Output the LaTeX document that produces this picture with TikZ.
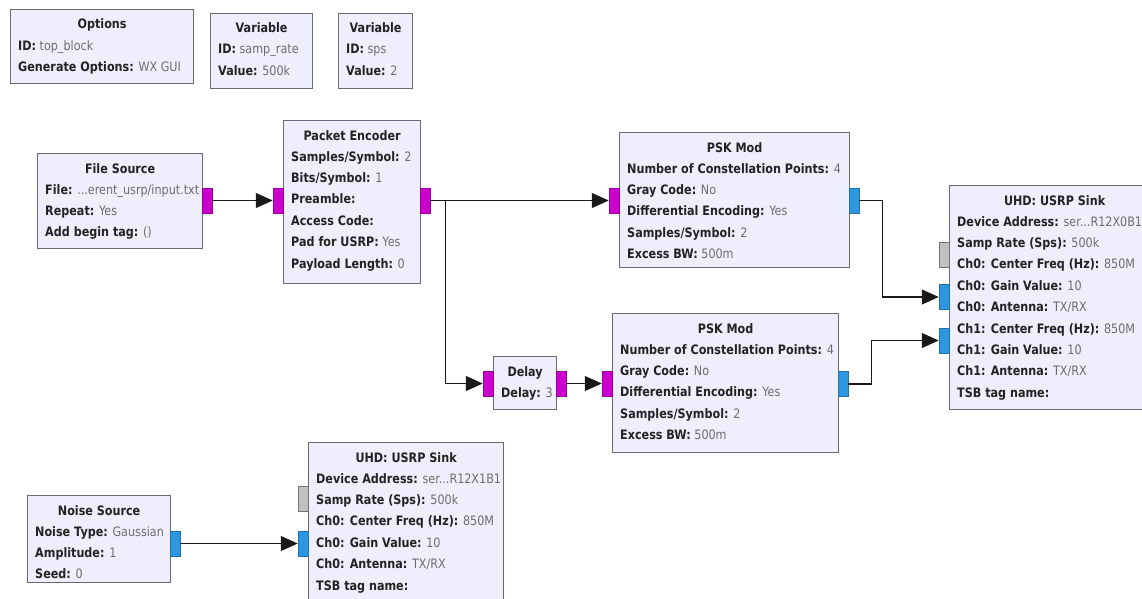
\documentclass[tikz,border=0pt]{standalone}
\usepackage{fontspec}
\setmainfont{DejaVu Sans}[FakeStretch=0.86]
\usetikzlibrary{arrows.meta,calc}

\definecolor{blockfill}{RGB}{238,238,252}
\definecolor{blockedge}{RGB}{105,105,110}
\definecolor{bytecol}{RGB}{204,0,204}
\definecolor{cplxcol}{RGB}{45,150,225}
\definecolor{msgcol}{RGB}{192,192,192}
\definecolor{valcol}{RGB}{110,110,110}
\definecolor{labcol}{RGB}{35,35,35}
\definecolor{wirecol}{RGB}{25,25,25}

% a "key: value" row of a block
\newcommand{\kv}[2]{\textbf{#1:} {\color{valcol}#2}}

\tikzset{
  x=1pt, y=-1pt,
  block/.style={draw=blockedge, line width=1.2pt, fill=blockfill, anchor=north west, inner sep=0pt},
  btitle/.style={font=\fontsize{13}{15}\selectfont\bfseries, text=labcol, inner sep=0pt, anchor=base},
  bbody/.style={font=\fontsize{13}{21.4}\selectfont, text=labcol, align=left, anchor=north west, inner sep=0pt},
  portbase/.style={minimum width=10pt, minimum height=25pt, inner sep=0pt, line width=0.5pt},
  byteport/.style={portbase, fill=bytecol, draw=bytecol!75!black},
  cplxport/.style={portbase, fill=cplxcol, draw=cplxcol!75!black},
  msgport/.style={portbase, fill=msgcol, draw=msgcol!60!black},
  conn/.style={draw=wirecol, line width=1.1pt, -{Triangle[length=17pt,width=15pt]}},
}

% block with title and rows: name, x, y, width, height, title, rows
\newcommand{\grcblock}[7]{%
  \node[block, minimum width=#4pt, minimum height=#5pt] (#1) at (#2,#3) {};
  \node[btitle] (#1-t) at ($(#1.north)+(0,20)$) {#6};
  \node[bbody] (#1-b) at ($(#1.north west)+(8,31)$) {#7};
}

\begin{document}
\begin{tikzpicture}
\useasboundingbox (0,0) rectangle (1142,599);
\fill[white] (0,0) rectangle (1142,599);
\clip (0,0) rectangle (1142,599);

% ---- variables and options ----
\grcblock{opt}{10}{9}{183}{74}{Options}{\kv{ID}{top\_block}\\\kv{Generate Options}{WX GUI}}
\grcblock{vrate}{210}{13}{102}{75}{Variable}{\kv{ID}{samp\_rate}\\\kv{Value}{500k}}
\grcblock{vsps}{338}{13}{74}{75}{Variable}{\kv{ID}{sps}\\\kv{Value}{2}}

% ---- transmit chain ----
\grcblock{fsrc}{37}{153}{165}{95}{File Source}{\kv{File}{...erent\_usrp/input.txt}\\\kv{Repeat}{Yes}\\\kv{Add begin tag}{()}}
\grcblock{penc}{283}{120}{137}{163}{Packet Encoder}{\kv{Samples/Symbol}{2}\\\kv{Bits/Symbol}{1}\\\kv{Preamble}{}\\\kv{Access Code}{}\\\kv{Pad for USRP}{Yes}\\\kv{Payload Length}{0}}
\grcblock{pskA}{619}{132}{230}{135}{PSK Mod}{\kv{Number of Constellation Points}{4}\\\kv{Gray Code}{No}\\\kv{Differential Encoding}{Yes}\\\kv{Samples/Symbol}{2}\\\kv{Excess BW}{500m}}
\grcblock{dly}{493}{356}{63}{53}{Delay}{\kv{Delay}{3}}
\grcblock{pskB}{612}{313}{226}{139}{PSK Mod}{\kv{Number of Constellation Points}{4}\\\kv{Gray Code}{No}\\\kv{Differential Encoding}{Yes}\\\kv{Samples/Symbol}{2}\\\kv{Excess BW}{500m}}
\grcblock{sinkA}{949}{185}{210}{224}{UHD: USRP Sink}{\kv{Device Address}{ser...R12X0B1}\\\kv{Samp Rate (Sps)}{500k}\\\kv{Ch0: Center Freq (Hz)}{850M}\\\kv{Ch0: Gain Value}{10}\\\kv{Ch0: Antenna}{TX/RX}\\\kv{Ch1: Center Freq (Hz)}{850M}\\\kv{Ch1: Gain Value}{10}\\\kv{Ch1: Antenna}{TX/RX}\\\kv{TSB tag name}{}}

% ---- noise chain ----
\grcblock{nsrc}{27}{495}{143}{87}{Noise Source}{\kv{Noise Type}{Gaussian}\\\kv{Amplitude}{1}\\\kv{Seed}{0}}
\grcblock{sinkB}{308}{442}{195}{170}{UHD: USRP Sink}{\kv{Device Address}{ser...R12X1B1}\\\kv{Samp Rate (Sps)}{500k}\\\kv{Ch0: Center Freq (Hz)}{850M}\\\kv{Ch0: Gain Value}{10}\\\kv{Ch0: Antenna}{TX/RX}\\\kv{TSB tag name}{}}

% ---- ports ----
\node[byteport] (fsrc-out) at (207,200.5) {};
\node[byteport] (penc-in)  at (278,200.5) {};
\node[byteport] (penc-out) at (425,200.5) {};
\node[byteport] (pskA-in)  at (614,200.5) {};
\node[cplxport] (pskA-out) at (854,200.5) {};
\node[byteport] (dly-in)   at (488,383.5) {};
\node[byteport] (dly-out)  at (561,383.5) {};
\node[byteport] (pskB-in)  at (607,383.5) {};
\node[cplxport] (pskB-out) at (843,384) {};
\node[msgport]  (sinkA-msg) at (944,255) {};
\node[cplxport] (sinkA-in0) at (944,297) {};
\node[cplxport] (sinkA-in1) at (944,340.5) {};
\node[cplxport] (nsrc-out)  at (175,543.5) {};
\node[msgport]  (sinkB-msg) at (303,498.5) {};
\node[cplxport] (sinkB-in0) at (303,543.5) {};

% ---- connections ----
\draw[conn] (fsrc-out.east) -- (penc-in.west);
\draw[conn] (penc-out.east) -- (pskA-in.west);
\coordinate (split) at ($(penc-out.east)+(15,0)$);
\draw[conn] (split) |- (dly-in.west);
\draw[conn] (dly-out.east) -- (pskB-in.west);
\draw[conn] (pskA-out.east) -- ++(23,0) |- (sinkA-in0.west);
\draw[conn] (pskB-out.east) -- ++(23,0) |- (sinkA-in1.west);
\draw[conn] (nsrc-out.east) -- (sinkB-in0.west);
\end{tikzpicture}
\end{document}
